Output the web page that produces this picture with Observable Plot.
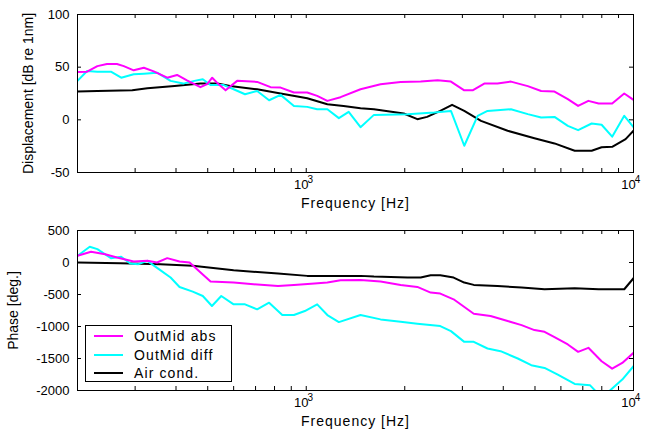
<!DOCTYPE html>
<html>
<head>
<meta charset="utf-8">
<script src="https://cdn.jsdelivr.net/npm/d3@7"></script>
<script src="https://cdn.jsdelivr.net/npm/@observablehq/plot@0.6"></script>
<style>
  html, body { margin: 0; padding: 0; background: #fff; }
  #wrap { position: relative; width: 646px; height: 437px; font-family: "Liberation Sans", Arial, sans-serif; }
  #wrap svg { display: block; }
  #legend { position: absolute; left: 85px; top: 325px; width: 145px; height: 55px; border: 1px solid #000; background: #fff; }
  #legend .row { position: absolute; left: 0; height: 18px; display: flex; align-items: center; font-size: 14px; letter-spacing: 1.1px; }
  #legend .sw { width: 29px; height: 2px; margin-left: 8px; margin-right: 11px; }
</style>
</head>
<body>
<div id="wrap"></div>
<script>
// ---------- data ----------
const seriesNames = ["OutMid abs", "OutMid diff", "Air cond."];
const seriesColors = ["#ff00ff", "#00ffff", "#000000"];

// Displacement [dB re 1nm]
const absDispFreq = [200,214,230,246,264,277,297,319,342,376,403,432,475,498,516,540,567,615,708,778,835,917,1007,1080,1160,1273,1465,1687,1943,2237,2520,2768,3040,3224,3499,3840,4222,4753,5221,5736,6300,6773,7280,7826,8606,9370,10000];
const absDispVal  = [45.4,45.7,51,53,53,51,47,49.5,46,40,42.6,37.5,31,34,40,33.7,28,37,36,31,30.6,26,26,22.7,18,21.5,29,33.7,36,36.3,37.5,36.3,28,28,34.4,34.4,36.3,32,27.4,26.8,19.6,13.2,18,15.5,15.5,25,19];

const diffDispFreq = [200,214,230,253,272,297,319,350,385,421,455,483,510,560,600,650,708,770,835,917,1007,1080,1160,1258,1348,1465,1610,2040,2460,2768,3040,3340,3580,4222,4753,5221,5736,6300,6773,7450,7990,8606,9370,10000];
const diffDispVal  = [37,46.4,45.7,45.7,40,43.2,43.8,44.8,37,34.4,37,38.5,33,33,29,24.3,27.4,18.6,23.7,13.2,12.3,10,10,1.6,7.6,-7,4.7,5.4,7,8.5,-24.6,3.8,8.5,10,5.4,2.2,2.8,-5.7,-9.8,-3.5,-4.7,-16,3.8,-7];

const airDispFreq = [200,230,294,327,396,475,535,585,708,835,1007,1160,1300,1465,1610,1985,2185,2340,2568,2790,3040,3420,4125,4980,5736,6612,7450,7990,8606,9460,10000];
const airDispVal  = [26.8,27.4,28,30,32.2,34.4,34.4,32.2,29,25,20.5,14.8,13.2,11,10,6,0.6,2.8,8.5,14.2,8.5,-1,-10.4,-17.4,-22.4,-29.3,-29.3,-26,-25.6,-18.3,-10.4];

// Phase [deg.]
const absPhaseFreq = [200,220,243,264,297,327,350,376,410,440,470,510,600,690,820,917,1060,1160,1273,1465,1687,1943,2185,2400,2568,2820,3250,3658,4125,4550,4980,5348,5736,6300,6773,7280,7990,8606,9240,10000];
const absPhaseVal  = [105,167,130,78,16,26,0,68,16,0,-131,-298,-314,-340,-366,-350,-330,-314,-277,-272,-298,-350,-382,-470,-486,-575,-800,-837,-915,-978,-1056,-1083,-1166,-1281,-1396,-1333,-1543,-1658,-1569,-1412];

const diffPhaseFreq = [200,218,230,253,272,290,307,327,358,385,410,450,483,515,550,600,650,708,770,845,917,990,1080,1160,1258,1465,1687,1943,2185,2568,2768,3040,3250,3580,3925,4430,4870,5348,5870,6612,7370,7826,8217,9240,10000];
const diffPhaseVal  = [105,246,209,68,89,-16,-26,26,-120,-235,-382,-455,-523,-680,-523,-654,-654,-732,-628,-821,-821,-758,-654,-821,-931,-821,-889,-926,-957,-994,-1072,-1240,-1240,-1344,-1386,-1500,-1605,-1647,-1752,-1898,-1919,-2060,-2060,-1830,-1621];

const airPhaseFreq = [200,270,358,450,600,820,1007,1465,1610,2040,2237,2400,2568,2820,3040,3250,3840,4550,5348,6612,7826,9370,10000];
const airPhaseVal  = [0,-10,-26,-52,-120,-173,-209,-209,-220,-235,-235,-199,-199,-235,-314,-350,-366,-392,-418,-403,-418,-418,-246];

// axes
const xDomain = [200, 10000];
const xTicks = [300,400,500,600,700,800,900,1000,2000,3000,4000,5000,6000,7000,8000,9000,10000];
const xLabelTicks = [1000, 10000];
const dispTicks = [-50, 0, 50, 100];
const phaseTicks = [-2000, -1500, -1000, -500, 0, 500];
const xLabel = "Frequency [Hz]";
const dispLabel = "Displacement [dB re 1nm]";
const phaseLabel = "Phase [deg.]";

// ---------- build ----------
function rows(freqs, vals, name) { return freqs.map((f, i) => ({f, v: vals[i], s: name})); }

const W = 646, ML = 77, MR = 13;
const pw = W - ML - MR;

function panel({height, marginTop, marginBottom, yDomain, yTicks, yLabel, yLabelDx, data}) {
  const ph = height - marginTop - marginBottom;
  const tick = 4;
  return Plot.plot({
    width: W, height, marginLeft: ML, marginRight: MR, marginTop, marginBottom,
    style: {fontFamily: "'Liberation Sans', Arial, sans-serif", fontSize: "13px", background: "#fff", color: "#000", overflow: "visible"},
    x: {type: "log", domain: xDomain, axis: null},
    y: {domain: yDomain, axis: null},
    color: {domain: seriesNames, range: seriesColors},
    marks: [
      Plot.tickX(xTicks, {x: d => d, insetTop: ph - tick, stroke: "#000"}),
      Plot.tickX(xTicks, {x: d => d, insetBottom: ph - tick, stroke: "#000"}),
      Plot.tickY(yTicks, {y: d => d, insetRight: pw - tick, stroke: "#000"}),
      Plot.tickY(yTicks, {y: d => d, insetLeft: pw - tick, stroke: "#000"}),
      ...data.map(d => Plot.line(d, {x: "f", y: "v", stroke: "s", strokeWidth: 2, clip: true, strokeLinejoin: "round"})),
      Plot.frame({stroke: "#000", strokeWidth: 1}),
      Plot.text(yTicks, {y: d => d, frameAnchor: "left", text: d => String(d), textAnchor: "end", dx: -8, fontSize: 13}),
      Plot.text(xLabelTicks, {x: d => d, frameAnchor: "bottom", text: () => "10", textAnchor: "middle", dy: 16, dx: -5, fontSize: 13}),
      Plot.text(xLabelTicks, {x: d => d, frameAnchor: "bottom", text: d => String(Math.round(Math.log10(d))), textAnchor: "middle", dy: 10, dx: 4, fontSize: 10}),
      Plot.text([xLabel], {frameAnchor: "bottom", text: d => d, textAnchor: "middle", dy: 35.5, fontSize: 14}),
      Plot.text([yLabel], {frameAnchor: "left", text: d => d, textAnchor: "middle", rotate: -90, dx: yLabelDx, fontSize: 14})
    ]
  });
}

const topPanel = panel({
  height: 218, marginTop: 14, marginBottom: 46,
  yDomain: [-50, 100], yTicks: dispTicks, yLabel: dispLabel, yLabelDx: -49,
  data: [rows(airDispFreq, airDispVal, seriesNames[2]), rows(diffDispFreq, diffDispVal, seriesNames[1]), rows(absDispFreq, absDispVal, seriesNames[0])]
});
const bottomPanel = panel({
  height: 219, marginTop: 12, marginBottom: 47,
  yDomain: [-2000, 500], yTicks: phaseTicks, yLabel: phaseLabel, yLabelDx: -64,
  data: [rows(airPhaseFreq, airPhaseVal, seriesNames[2]), rows(diffPhaseFreq, diffPhaseVal, seriesNames[1]), rows(absPhaseFreq, absPhaseVal, seriesNames[0])]
});

const wrap = document.getElementById("wrap");
wrap.appendChild(topPanel);
wrap.appendChild(bottomPanel);

// wider spacing on word labels (mimic the bitmap font of the original)
d3.selectAll("#wrap svg text").filter(function() { return this.textContent === xLabel; }).style("letter-spacing", "1px");

// legend
const legend = document.createElement("div");
legend.id = "legend";
seriesNames.forEach((name, i) => {
  const r = document.createElement("div");
  r.className = "row";
  r.style.top = (1 + i * 18.5) + "px";
  const sw = document.createElement("div");
  sw.className = "sw";
  sw.style.background = seriesColors[i];
  const t = document.createElement("span");
  t.textContent = name;
  r.appendChild(sw); r.appendChild(t);
  legend.appendChild(r);
});
wrap.appendChild(legend);
</script>
</body>
</html>
